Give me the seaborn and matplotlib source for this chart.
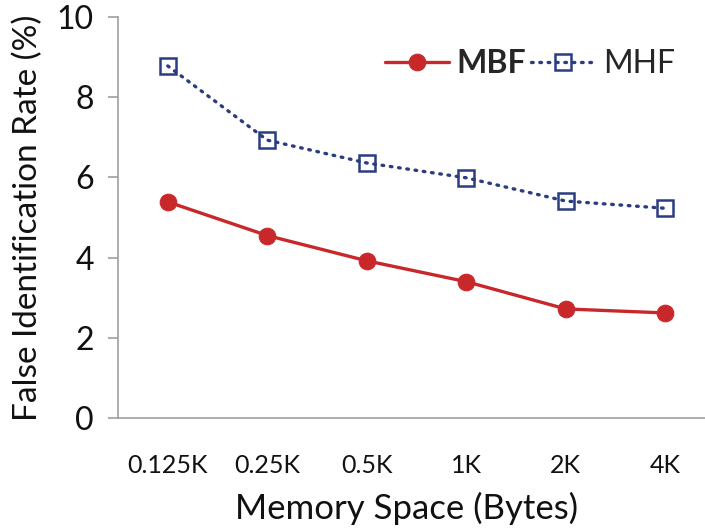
import matplotlib
matplotlib.use("Agg")
import matplotlib.pyplot as plt
import pandas as pd
import seaborn as sns

memory_space = ["0.125K", "0.25K", "0.5K", "1K", "2K", "4K"]
mbf_rate = [5.39, 4.55, 3.92, 3.40, 2.72, 2.62]
mhf_rate = [8.78, 6.93, 6.36, 5.99, 5.41, 5.23]
y_ticks = [0, 2, 4, 6, 8, 10]

RED = "#C8282A"
NAVY = "#2B3C80"
AXIS_GRAY = "#A0A0A0"
TEXT = "#111111"

sns.set_theme(style="white")
plt.rcParams["font.family"] = ["Lato", "DejaVu Sans"]

df = pd.DataFrame({"Memory": memory_space, "MBF": mbf_rate, "MHF": mhf_rate})

fig = plt.figure(figsize=(7.05, 5.31), dpi=100)
# plot area runs a little past the right edge, like the source
ax = fig.add_axes([118 / 705, (531 - 418) / 531, (715 - 118) / 705, (418 - 17) / 531])

sns.lineplot(data=df, x="Memory", y="MBF", ax=ax, color=RED, linewidth=2.4,
             marker="o", markersize=12, markeredgecolor=RED, label="MBF", sort=False)
sns.lineplot(data=df, x="Memory", y="MHF", ax=ax, color=NAVY, linewidth=2.4,
             linestyle=(0, (0.5, 2.0)), dash_capstyle="round", marker="s", markersize=12,
             markerfacecolor="none", markeredgecolor=NAVY, markeredgewidth=1.8,
             label="MHF", sort=False)

ax.set_xlim(-0.5, len(memory_space) - 0.5)
ax.set_ylim(0, 10)
ax.set_yticks(y_ticks)

for side in ["top", "right"]:
    ax.spines[side].set_visible(False)
for side in ["left", "bottom"]:
    ax.spines[side].set_color(AXIS_GRAY)
    ax.spines[side].set_linewidth(1.2)

ax.tick_params(axis="y", which="both", left=True, length=7.5, width=1.2,
               color=AXIS_GRAY, labelsize=23, pad=10, labelcolor=TEXT)
ax.tick_params(axis="x", bottom=False, labelsize=18, pad=20, labelcolor=TEXT)

ax.set_xlabel("Memory Space (Bytes)", fontsize=25, color=TEXT)
ax.xaxis.set_label_coords(0.483, -0.185)
ax.set_ylabel("False Identification Rate (%)", fontsize=24, color=TEXT, labelpad=10)

leg = ax.legend(loc="center left", bbox_to_anchor=(0.447, 0.883), ncol=2, frameon=False,
                fontsize=23, handlelength=2.0, columnspacing=0.15, handletextpad=0.25,
                borderaxespad=0, borderpad=0)
leg.get_texts()[0].set_fontweight("bold")

fig.savefig("out.png", dpi=100)
